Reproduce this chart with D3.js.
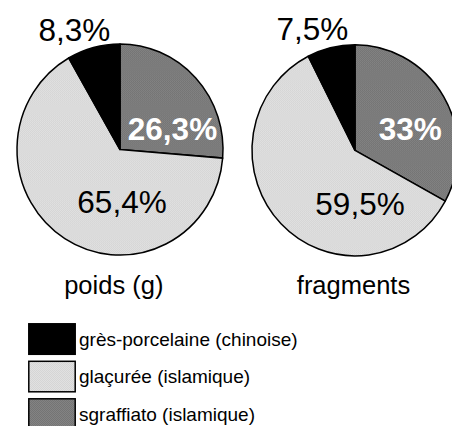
<!DOCTYPE html>
<html>
<head>
<meta charset="utf-8">
<script src="https://cdn.jsdelivr.net/npm/d3@7"></script>
<style>
  html, body { margin: 0; padding: 0; background: #fff; }
  svg { display: block; }
  text { font-family: "Liberation Sans", Arial, Helvetica, sans-serif; }
</style>
</head>
<body>
<svg id="chart" width="452" height="426"></svg>
<script>
// Ceramic categories, in clockwise order from twelve o'clock
const categories = ["sgraffiato (islamique)", "glaçurée (islamique)", "grès-porcelaine (chinoise)"];
// Share of each category (percent) by weight and by fragment count
const poidsValues = [26.3, 65.4, 8.3];
const fragmentsValues = [33, 59.5, 7.5];
// Pie titles
const pieTitles = ["poids (g)", "fragments"];
// Legend order
const legendOrder = ["grès-porcelaine (chinoise)", "glaçurée (islamique)", "sgraffiato (islamique)"];

const svg = d3.select("#chart");
const defs = svg.append("defs");

// fine dithered fills
function dither(id, a, b) {
  const p = defs.append("pattern").attr("id", id)
    .attr("patternUnits", "userSpaceOnUse").attr("width", 2).attr("height", 2);
  p.append("rect").attr("width", 2).attr("height", 2).attr("fill", a);
  p.append("rect").attr("width", 1).attr("height", 1).attr("fill", b);
  p.append("rect").attr("x", 1).attr("y", 1).attr("width", 1).attr("height", 1).attr("fill", b);
}
dither("dLight", "#e1e1e1", "#d5d5d5");
dither("dDark", "#838383", "#747474");

const color = d3.scaleOrdinal()
  .domain(categories)
  .range(["url(#dDark)", "url(#dLight)", "#000"]);

const fmt = v => String(v).replace(".", ",") + "%";

const radius = 103;
const pie = d3.pie().sort(null).value(d => d.value);
const arc = d3.arc().innerRadius(0).outerRadius(radius);

// label offsets from each pie centre: [dx, baseline dy, colour, weight]
const pies = [
  { title: pieTitles[0], values: poidsValues, cx: 120, cy: 149.5,
    labelPos: [[52.5, -9.5, "#fff", "bold"], [2, 63.5, "#000", "normal"], [-45.7, -109, "#000", "normal"]] },
  { title: pieTitles[1], values: fragmentsValues, cx: 355, cy: 150.3,
    labelPos: [[55.3, -10.3, "#fff", "bold"], [5, 64.7, "#000", "normal"], [-42.7, -110.3, "#000", "normal"]] }
];

const titleX = d3.scalePoint().domain(pieTitles).range([113.8, 353.5]);

pies.forEach(p => {
  const data = categories.map((c, i) => ({ cat: c, value: p.values[i] }));
  const g = svg.append("g").attr("transform", `translate(${p.cx},${p.cy})`);
  const shape = g.append("g").attr("transform", "scale(1,1.025)");
  shape.selectAll("path")
    .data(pie(data))
    .join("path")
    .attr("d", arc)
    .attr("fill", d => color(d.data.cat))
    .attr("stroke", "#000")
    .attr("stroke-width", 1.5)
    .attr("stroke-linejoin", "round");

  g.selectAll("text.val")
    .data(data)
    .join("text")
    .attr("class", "val")
    .attr("x", (d, i) => p.labelPos[i][0])
    .attr("y", (d, i) => p.labelPos[i][1])
    .attr("text-anchor", "middle")
    .attr("font-size", 31.5)
    .attr("font-weight", (d, i) => p.labelPos[i][3])
    .attr("fill", (d, i) => p.labelPos[i][2])
    .text(d => fmt(d.value));

  svg.append("text")
    .attr("x", titleX(p.title))
    .attr("y", 294)
    .attr("text-anchor", "middle")
    .attr("font-size", 25.5)
    .attr("fill", "#000")
    .text(p.title);
});

// legend
const legendY = d3.scalePoint().domain(legendOrder).range([323.3, 398.3]);
const lg = svg.append("g");
legendOrder.forEach(c => {
  lg.append("rect")
    .attr("x", 28.8).attr("y", legendY(c) + 0.5)
    .attr("width", 46.4).attr("height", 30.5)
    .attr("fill", color(c))
    .attr("stroke", "#000").attr("stroke-width", 1.5);
  lg.append("text")
    .attr("x", 79).attr("y", legendY(c) + 22.5)
    .attr("font-size", 19)
    .attr("fill", "#000")
    .text(c);
});
</script>
</body>
</html>
